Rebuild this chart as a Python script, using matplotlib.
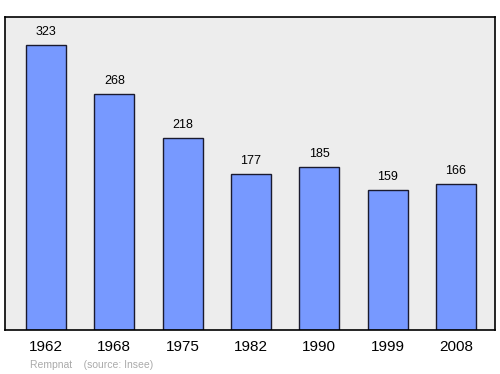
import matplotlib
matplotlib.use('Agg')
import matplotlib.pyplot as plt

years = ['1962', '1968', '1975', '1982', '1990', '1999', '2008']
population = [323, 268, 218, 177, 185, 159, 166]

plt.rcParams['font.family'] = ['Liberation Sans', 'DejaVu Sans']

fig = plt.figure(figsize=(5, 3.74), dpi=100)
ax = fig.add_axes([0.01, 0.1176, 0.98, 0.837])
ax.set_facecolor('#ededed')

x = range(len(years))
ax.bar(x, population, width=0.585, color='#7799ff', edgecolor='#1a1a2e', linewidth=1)
for i, v in enumerate(population):
    ax.text(i, v + 8, str(v), ha='center', va='bottom', fontsize=9)

ax.set_xlim(-0.6, 6.57)
ax.set_ylim(0, 355)
ax.set_yticks([])
ax.set_xticks(list(x))
ax.set_xticklabels(years, fontsize=11)
ax.tick_params(axis='x', length=0, pad=7)
for s in ax.spines.values():
    s.set_linewidth(1.2)

fig.text(0.06, 0.017, 'Rempnat    (source: Insee)', fontsize=7.5, color='#aaaaaa')

fig.savefig('out.png', dpi=100)
